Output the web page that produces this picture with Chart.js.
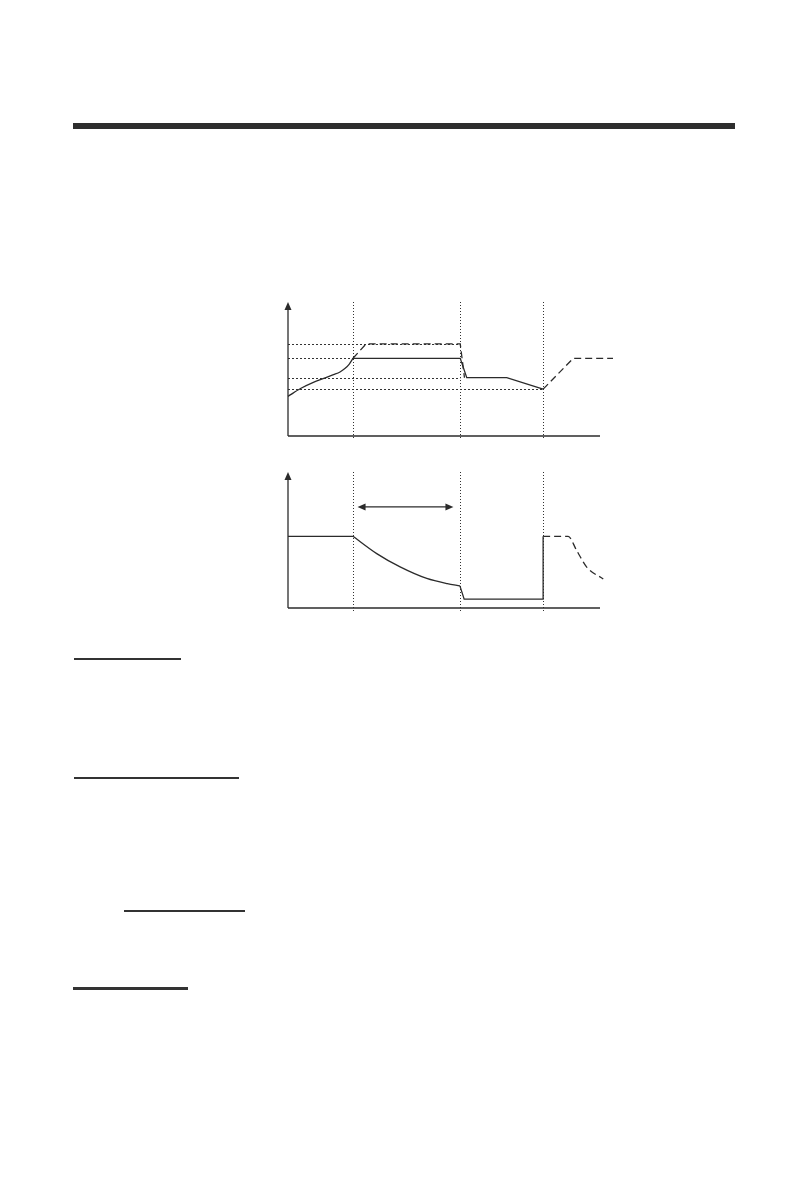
<!DOCTYPE html>
<html>
<head>
<meta charset="utf-8">
<script src="https://cdn.jsdelivr.net/npm/chart.js@4.4.0/dist/chart.umd.min.js"></script>
<style>
  body { margin: 0; background: #fff; }
  .page { position: relative; width: 808px; height: 1191px; background: #fff; }
  .bar { position: absolute; left: 73px; top: 123px; width: 662px; height: 6px; background: #2e2e2e; }
  .rule { position: absolute; height: 1.5px; background: #333; }
  canvas { position: absolute; }
</style>
</head>
<body>
<div class="page">
  <div class="bar"></div>
  <canvas id="voltage" width="400" height="160" style="left:240px; top:290px;"></canvas>
  <canvas id="current" width="400" height="165" style="left:240px; top:460px;"></canvas>
  <div class="rule" style="left:74px; top:658px; width:107px;"></div>
  <div class="rule" style="left:74px; top:777px; width:165px;"></div>
  <div class="rule" style="left:124px; top:910px; width:121px;"></div>
  <div class="rule" style="left:73px; top:987px; width:115px; height:2.5px;"></div>
</div>
<script>
// stage boundaries (time units) shared by both charts
var stageX = [20, 53, 78.5];

// voltage chart
var voltLevels = [68.7, 58, 43, 35];
var levelEnds = [53, 53, 53, 78.5];
var riseX = [0, 4, 7.8, 11, 14, 16, 17.5, 18.8, 20];
var riseY = [29.6, 35.6, 40, 43, 45.8, 47.8, 50.3, 53.5, 58];
var absorbX = [20, 53, 55, 67.3, 78.5];
var absorbY = [58, 58, 43.5, 43.5, 35];
var boostX = [20, 24, 53, 54.3];
var boostY = [58, 68.7, 68.7, 43.5];
var nextX = [78.5, 87.8, 100];
var nextY = [35, 58, 58];

// current chart
var bulkX = [0, 20];
var bulkY = [52.7, 52.7];
var decayX = [20, 27.3, 34.5, 42.7, 49, 52.9];
var decayY = [52.7, 40, 30.2, 21.7, 17.9, 16.3];
var floatX = [52.9, 54.2, 78.5, 78.5];
var floatY = [16.3, 6.5, 6.5, 52.7];
var tailX = [78.5, 86.2, 88.8, 91.9, 97];
var tailY = [52.7, 52.7, 42.4, 30.1, 21.3];
var spanX = [21.4, 50.9];
var spanY = 74.3;

function pts(xs, ys) {
  return xs.map(function(x, i) { return { x: x, y: ys[i] }; });
}

function line(xs, ys, dashed, curved) {
  return {
    data: pts(xs, ys),
    borderColor: '#2b2b2b',
    borderWidth: 1.3,
    borderDash: dashed ? [7, 4] : [],
    pointRadius: 0,
    tension: curved ? 0.4 : 0,
    cubicInterpolationMode: curved ? 'monotone' : 'default',
    fill: false,
    clip: false
  };
}

function seg(ctx, x1, y1, x2, y2) {
  ctx.beginPath();
  ctx.moveTo(x1, y1);
  ctx.lineTo(x2, y2);
  ctx.stroke();
}

function head(ctx, x, y, dir) {
  // dir: 'up', 'left', 'right'
  ctx.beginPath();
  if (dir === 'up') {
    ctx.moveTo(x, y); ctx.lineTo(x - 3.5, y + 8); ctx.lineTo(x + 3.5, y + 8);
  } else if (dir === 'left') {
    ctx.moveTo(x, y); ctx.lineTo(x + 8, y - 3.5); ctx.lineTo(x + 8, y + 3.5);
  } else {
    ctx.moveTo(x, y); ctx.lineTo(x - 8, y - 3.5); ctx.lineTo(x - 8, y + 3.5);
  }
  ctx.closePath();
  ctx.fill();
}

var guides = {
  id: 'guides',
  beforeDatasetsDraw: function(chart, args, opts) {
    var ctx = chart.ctx;
    var xs = chart.scales.x, ys = chart.scales.y;
    var a = chart.chartArea;
    ctx.save();
    ctx.strokeStyle = '#333';
    ctx.fillStyle = '#2b2b2b';
    ctx.lineWidth = 1;
    ctx.setLineDash([1, 2]);
    opts.stages.forEach(function(v) {
      var px = Math.round(xs.getPixelForValue(v)) + 0.5;
      seg(ctx, px, a.top, px, a.bottom + 3);
    });
    ctx.setLineDash([2, 2]);
    (opts.levels || []).forEach(function(v, i) {
      var py = Math.round(ys.getPixelForValue(v)) + 0.5;
      seg(ctx, a.left, py, xs.getPixelForValue(opts.levelEnds[i]), py);
    });
    ctx.setLineDash([]);
    ctx.strokeStyle = '#2b2b2b';
    ctx.lineWidth = 1.3;
    seg(ctx, a.left, a.bottom, a.left, a.top + 6);
    seg(ctx, a.left, a.bottom, xs.getPixelForValue(opts.axisEnd), a.bottom);
    head(ctx, a.left, a.top, 'up');
    if (opts.span) {
      var sy = ys.getPixelForValue(opts.span.y);
      var sx1 = xs.getPixelForValue(opts.span.x[0]);
      var sx2 = xs.getPixelForValue(opts.span.x[1]);
      seg(ctx, sx1 + 4, sy, sx2 - 4, sy);
      head(ctx, sx1, sy, 'left');
      head(ctx, sx2, sy, 'right');
    }
    ctx.restore();
  }
};

function baseOptions(pad, guideOpts) {
  return {
    responsive: false,
    animation: false,
    events: [],
    layout: { padding: pad },
    plugins: {
      legend: { display: false },
      tooltip: { enabled: false },
      guides: guideOpts
    },
    scales: {
      x: { type: 'linear', min: 0, max: 100, display: false },
      y: { min: 0, max: 100, display: false }
    }
  };
}

new Chart(document.getElementById('voltage').getContext('2d'), {
  type: 'line',
  data: {
    datasets: [
      line(riseX, riseY, false, true),
      line(absorbX, absorbY, false, false),
      line(boostX, boostY, true, false),
      line(nextX, nextY, true, false)
    ]
  },
  options: baseOptions({ left: 48, right: 27, top: 12, bottom: 14 }, {
    stages: stageX, levels: voltLevels, levelEnds: levelEnds, axisEnd: 96
  }),
  plugins: [guides]
});

new Chart(document.getElementById('current').getContext('2d'), {
  type: 'line',
  data: {
    datasets: [
      line(bulkX, bulkY, false, false),
      line(decayX, decayY, false, true),
      line(floatX, floatY, false, false),
      line(tailX, tailY, true, true)
    ]
  },
  options: baseOptions({ left: 48, right: 27, top: 12, bottom: 17 }, {
    stages: stageX, axisEnd: 96, span: { x: spanX, y: spanY }
  }),
  plugins: [guides]
});
</script>
</body>
</html>
